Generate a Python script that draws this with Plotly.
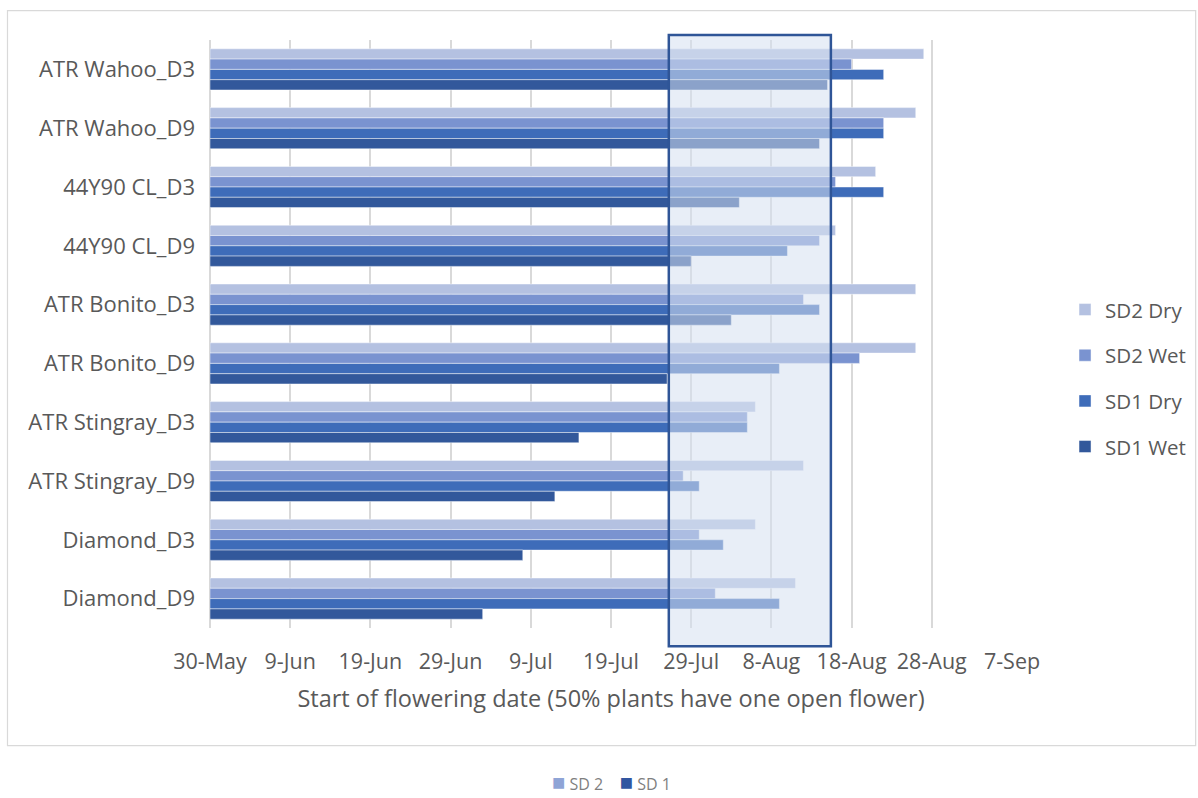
import pandas as pd
import plotly.graph_objects as go

# ---------------- data ----------------
base_date = "2019-05-30"
categories = ["ATR Wahoo_D3", "ATR Wahoo_D9", "44Y90 CL_D3", "44Y90 CL_D9",
              "ATR Bonito_D3", "ATR Bonito_D9", "ATR Stingray_D3", "ATR Stingray_D9",
              "Diamond_D3", "Diamond_D9"]

sd2_dry = ["2019-08-27", "2019-08-26", "2019-08-21", "2019-08-16", "2019-08-26",
           "2019-08-26", "2019-08-06", "2019-08-12", "2019-08-06", "2019-08-11"]
sd2_wet = ["2019-08-18", "2019-08-22", "2019-08-16", "2019-08-14", "2019-08-12",
           "2019-08-19", "2019-08-05", "2019-07-28", "2019-07-30", "2019-08-01"]
sd1_dry = ["2019-08-22", "2019-08-22", "2019-08-22", "2019-08-10", "2019-08-14",
           "2019-08-09", "2019-08-05", "2019-07-30", "2019-08-02", "2019-08-09"]
sd1_wet = ["2019-08-15", "2019-08-14", "2019-08-04", "2019-07-29", "2019-08-03",
           "2019-07-26", "2019-07-15", "2019-07-12", "2019-07-08", "2019-07-03"]

tick_dates = ["2019-05-30", "2019-06-09", "2019-06-19", "2019-06-29", "2019-07-09",
              "2019-07-19", "2019-07-29", "2019-08-08", "2019-08-18", "2019-08-28",
              "2019-09-07"]
tick_labels = ["30-May", "9-Jun", "19-Jun", "29-Jun", "9-Jul", "19-Jul",
               "29-Jul", "8-Aug", "18-Aug", "28-Aug", "7-Sep"]

highlight_window = ["2019-07-26 05:00", "2019-08-15 10:00"]

series_names = ["SD2 Dry", "SD2 Wet", "SD1 Dry", "SD1 Wet"]
series_values = [sd2_dry, sd2_wet, sd1_dry, sd1_wet]
series_colors = ["#B4C1E1", "#7A93D0", "#3E6CB9", "#32589B"]


def days(values):
    d = pd.to_datetime(pd.Series(values)) - pd.Timestamp(base_date)
    return (d / pd.Timedelta(days=1)).tolist()


FONT = "Open Sans"
GRAY = "#595959"

fig = go.Figure()
for i, (name, vals, col) in enumerate(zip(series_names, series_values, series_colors)):
    fig.add_trace(go.Bar(
        y=categories, x=days(vals), orientation="h", name=name,
        legendgroup=name,
        marker=dict(color=col, line=dict(color="rgba(255,255,255,0.45)", width=1)),
    ))

hw = days(highlight_window)
tv = days(tick_dates)

shapes = [
    # highlight window
    dict(type="rect", xref="x", yref="paper", x0=hw[0], x1=hw[1], y0=-0.031, y1=1.0085,
         fillcolor="rgba(214,224,241,0.55)", line=dict(color="#2F5597", width=2.5),
         layer="above"),
    # outer chart border
    dict(type="rect", xref="paper", yref="paper", x0=-0.2525, x1=1.229, y0=-0.2, y1=1.05,
         fillcolor="rgba(0,0,0,0)", line=dict(color="#D9D9D9", width=1.2), layer="below"),
]

sq1 = '<span style="color:#8FA4D6;font-size:22px">■</span>'
sq2 = '<span style="color:#3256A0;font-size:22px">■</span>'

fig.update_layout(
    width=1198, height=798,
    margin=dict(l=210, r=186, t=40, b=170),
    paper_bgcolor="white", plot_bgcolor="white",
    barmode="group", bargap=0.30, bargroupgap=0,
    font=dict(family=FONT, color=GRAY, size=21),
    shapes=shapes,
    legend=dict(xref="container", yref="container", x=0.889, y=0.526,
                xanchor="left", yanchor="middle",
                traceorder="grouped", tracegroupgap=16,
                font=dict(size=20.5, color=GRAY), itemwidth=30),
    annotations=[
        dict(xref="paper", yref="paper", x=0.5, y=-0.2895, showarrow=False,
             xanchor="center", yanchor="bottom",
             text=f'{sq1} SD 2    {sq2} SD 1',
             font=dict(size=16, color="#7F7F7F")),
    ],
)

fig.update_xaxes(
    range=[0, 100], tickvals=tv, ticktext=tick_labels,
    showgrid=True, gridcolor="#D9D9D9", gridwidth=1.5,
    zeroline=True, zerolinecolor="#D9D9D9", zerolinewidth=1.5,
    showline=False, ticks="", ticklabelstandoff=18,
    tickfont=dict(size=21.5, color=GRAY, family=FONT),
    title=dict(text="Start of flowering date (50% plants have one open flower)",
               font=dict(size=23.5, color=GRAY, family=FONT), standoff=17),
    fixedrange=True,
)
fig.update_yaxes(
    autorange="reversed", showgrid=False, showline=False, ticks="",
    ticklabelstandoff=14, tickfont=dict(size=22, color=GRAY, family=FONT),
    fixedrange=True,
)

fig.write_html("out.html")
